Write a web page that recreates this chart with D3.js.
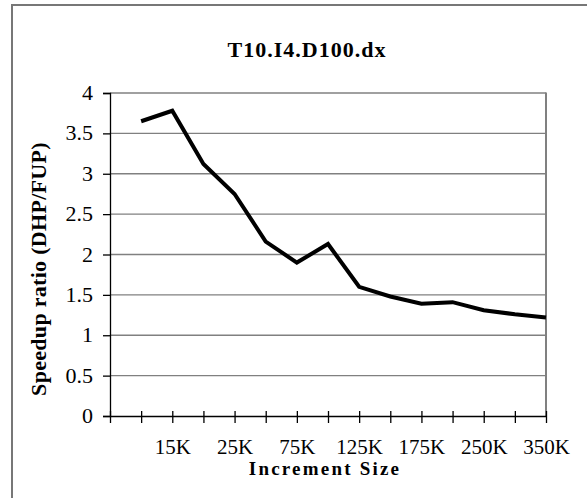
<!DOCTYPE html>
<html>
<head>
<meta charset="utf-8">
<script src="https://cdn.jsdelivr.net/npm/d3@7"></script>
<style>
  html, body { margin: 0; padding: 0; background: #fff; }
  svg { display: block; }
  text { font-family: "Liberation Serif", "Times New Roman", serif; fill: #000; }
</style>
</head>
<body>
<script>
// ---- data ----
const title = "T10.I4.D100.dx";
const xTitle = "Increment Size";
const yTitle = "Speedup ratio (DHP/FUP)";
const categories = ["10K", "15K", "20K", "25K", "50K", "75K", "100K", "125K", "150K", "175K", "200K", "250K", "300K", "350K"];
const speedup = [3.65, 3.78, 3.12, 2.75, 2.16, 1.90, 2.13, 1.60, 1.48, 1.39, 1.41, 1.31, 1.26, 1.22];
const yTicks = [0, 0.5, 1, 1.5, 2, 2.5, 3, 3.5, 4];

// ---- layout ----
const W = 587, H = 498;
const plot = { left: 110, right: 546, top: 93, bottom: 416 };

const svg = d3.select("body").append("svg").attr("width", W).attr("height", H);

// outer frame (only left & top visible within the picture)
svg.append("rect")
  .attr("x", 12).attr("y", 5)
  .attr("width", W + 20).attr("height", H + 20)
  .attr("fill", "none").attr("stroke", "#777").attr("stroke-width", 2);

const x = d3.scaleLinear().domain([0, categories.length]).range([plot.left, plot.right]);
const y = d3.scaleLinear().domain([0, 4]).range([plot.bottom, plot.top]);

// gridlines
svg.append("g").selectAll("line")
  .data(yTicks.filter(d => d > 0))
  .join("line")
  .attr("x1", plot.left).attr("x2", plot.right)
  .attr("y1", d => y(d)).attr("y2", d => y(d))
  .attr("stroke", "#808080").attr("stroke-width", 1.3);

// right border of plot area
svg.append("line")
  .attr("x1", plot.right).attr("x2", plot.right)
  .attr("y1", plot.top - 0.5).attr("y2", plot.bottom)
  .attr("stroke", "#808080").attr("stroke-width", 2);

// y axis
const yAxis = d3.axisLeft(y).tickValues(yTicks).tickSize(7).tickPadding(10)
  .tickFormat(d => d3.format("")(d));
const gy = svg.append("g").attr("transform", `translate(${plot.left},0)`).call(yAxis);
gy.select(".domain").attr("stroke", "#000").attr("stroke-width", 1.3);
gy.selectAll(".tick line").attr("stroke", "#000").attr("stroke-width", 1.3);
gy.selectAll(".tick text")
  .style("font-size", "22px")
  .style("font-family", "'Liberation Serif', 'Times New Roman', serif")
  .attr("x", -17).attr("dy", "0.3em");

// x axis
const xAxis = d3.axisBottom(x)
  .tickValues(d3.range(0, categories.length + 1))
  .tickSize(7).tickSizeOuter(0)
  .tickFormat(i => (i >= 1 && (i - 1) % 2 === 1) ? categories[i - 1] : "");
const gx = svg.append("g").attr("transform", `translate(0,${plot.bottom})`).call(xAxis);
gx.select(".domain").attr("stroke", "#000").attr("stroke-width", 1.3);
gx.selectAll(".tick line").attr("stroke", "#000").attr("stroke-width", 1.3).attr("y1", -5);
gx.selectAll(".tick text")
  .style("font-size", "21px")
  .style("font-family", "'Liberation Serif', 'Times New Roman', serif")
  .attr("y", 37.5).attr("dy", 0);

// data line
const line = d3.line().x((d, i) => x(i + 1)).y(d => y(d));
svg.append("path")
  .datum(speedup)
  .attr("d", line)
  .attr("fill", "none")
  .attr("stroke", "#000")
  .attr("stroke-width", 4)
  .attr("stroke-linejoin", "miter");

// title
svg.append("text")
  .attr("x", 307).attr("y", 57)
  .attr("text-anchor", "middle")
  .style("font-size", "22px").style("font-weight", "bold")
  .style("letter-spacing", "1px")
  .text(title);

// x title
svg.append("text")
  .attr("x", 325).attr("y", 475)
  .attr("text-anchor", "middle")
  .style("font-size", "19px").style("font-weight", "bold")
  .style("letter-spacing", "2.2px")
  .text(xTitle);

// y title
svg.append("text")
  .attr("transform", "translate(46,269) rotate(-90)")
  .attr("text-anchor", "middle")
  .style("font-size", "22px").style("font-weight", "bold")
  .style("letter-spacing", "0.3px")
  .text(yTitle);
</script>
</body>
</html>
